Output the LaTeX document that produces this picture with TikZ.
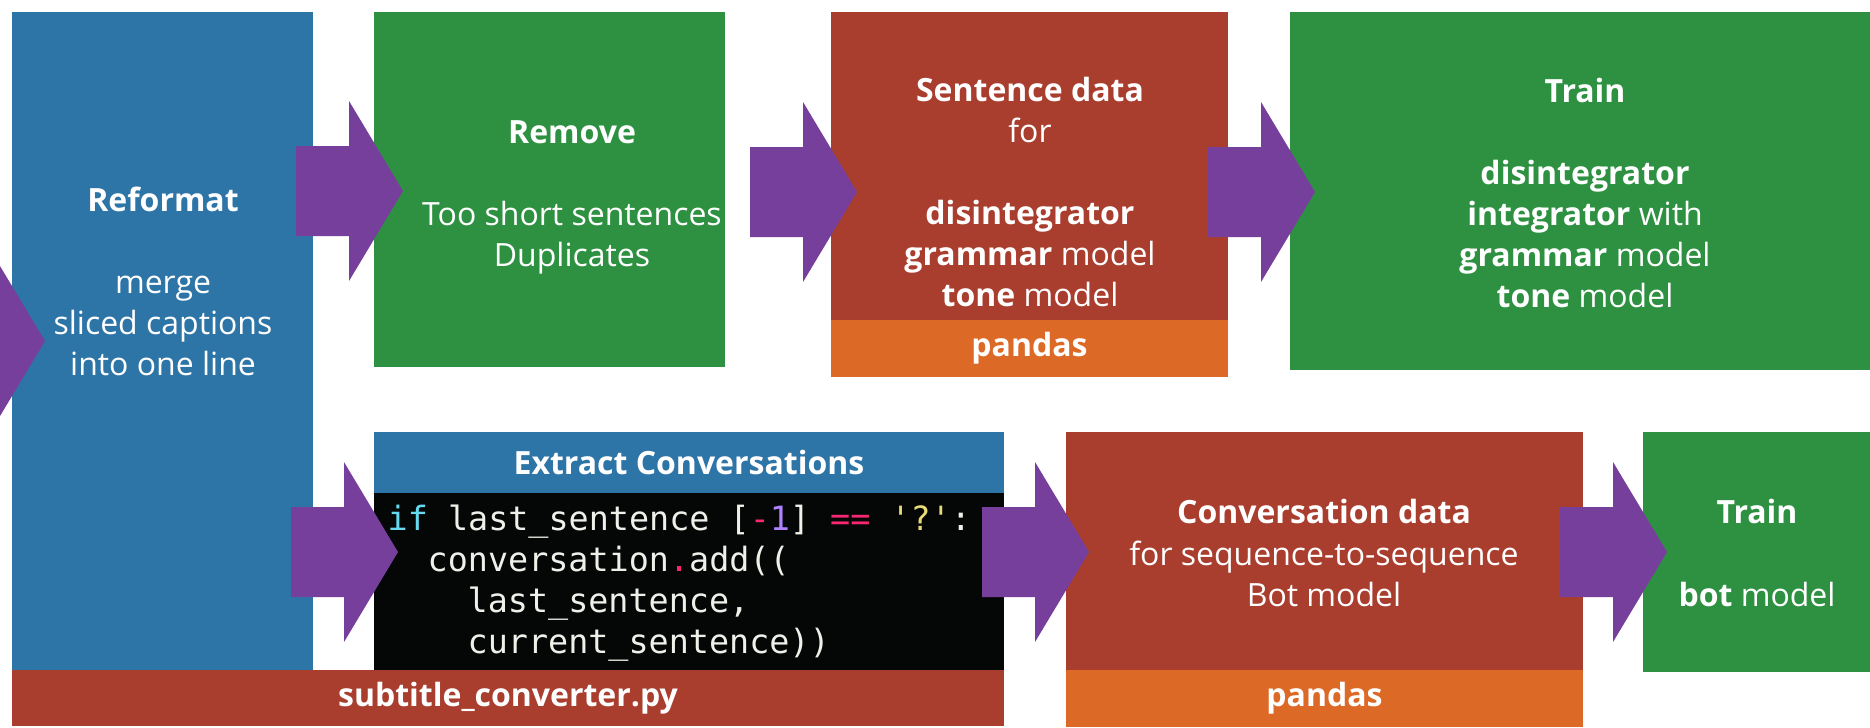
\documentclass[tikz,border=0pt]{standalone}
\usepackage{fontspec}
\setmainfont{Open Sans}
\newfontfamily\codefont{DejaVu Sans Mono}[Ligatures=TeXOff]
\usetikzlibrary{calc}
\definecolor{cblue}{HTML}{2E75A7}
\definecolor{cgreen}{HTML}{2E9141}
\definecolor{cred}{HTML}{A93E2F}
\definecolor{corange}{HTML}{DD6927}
\definecolor{cpurple}{HTML}{763F9B}
\definecolor{ccode}{HTML}{050707}
\definecolor{mkfg}{HTML}{F0F0EA}
\definecolor{mkblue}{HTML}{66D9EF}
\definecolor{mkpink}{HTML}{F92672}
\definecolor{mkpurple}{HTML}{AE81FF}
\definecolor{mkyellow}{HTML}{E6DB74}
\tikzset{
  panel/.style={inner sep=0pt, outer sep=0pt, anchor=north west, draw=none},
  lbl/.style={text=white, align=center, font=\fontsize{9.1}{11.67}\selectfont, inner sep=0pt},
  codeline/.style={text=mkfg, anchor=base west, inner sep=0pt, font=\codefont\fontsize{9.5}{11.67}\selectfont},
  flow/.style={fill=cpurple},
}
\newcommand\panel[6]{%
  \node[panel, fill=#2, minimum width={(#5-#3)*0.01cm}, minimum height={(#6-#4)*0.01cm}] (#1) at (#3,#4) {};}
\newcommand\fatarrow[1]{%
  \fill[flow] (#1) -- ++(-54,-90) -- ++(0,45) -- ++(-53,0) -- ++(0,90) -- ++(53,0) -- ++(0,45) -- cycle;}
\begin{document}
\begin{tikzpicture}[x=0.01cm, y=-0.01cm]
\useasboundingbox (0,0) rectangle (1870,727);
\fill[white] (0,0) rectangle (1870,727);
\clip (0,0) rectangle (1870,727);
% panels
\panel{reformat}{cblue}{12}{12}{313}{670}
\panel{subtitle}{cred}{12}{670}{1004}{726}
\panel{remove}{cgreen}{374}{12}{725}{367}
\panel{sentence}{cred}{831}{12}{1228}{320}
\panel{pandasA}{corange}{831}{320}{1228}{377}
\panel{train}{cgreen}{1290}{12}{1890}{370}
\panel{extract}{cblue}{374}{432}{1004}{493}
\panel{code}{ccode}{374}{493}{1004}{670}
\panel{conv}{cred}{1066}{432}{1583}{670}
\panel{pandasB}{corange}{1066}{670}{1583}{727}
\panel{trainbot}{cgreen}{1643}{432}{1890}{672}
% connectors (fat arrows)
\coordinate (a0) at ($(reformat.north west)+(33,329)$);
\coordinate (a1) at ($(remove.north west)+(29,179)$);
\coordinate (a2) at ($(sentence.north west)+(26,180)$);
\coordinate (a3) at ($(train.north west)+(25,180)$);
\coordinate (a4) at ($(extract.north west)+(24,120)$);
\coordinate (a5) at ($(conv.north west)+(23,120)$);
\coordinate (a6) at ($(trainbot.north west)+(24,120)$);
\fatarrow{a0}
\fatarrow{a1}
\fatarrow{a2}
\fatarrow{a3}
\fatarrow{a4}
\fatarrow{a5}
\fatarrow{a6}
% texts
\node[lbl] (reformatT) at (163,281) {\textbf{Reformat}\\~\\merge\\sliced captions\\into one line};
\node[lbl] (removeT) at (572,197) {\textbf{Remove}\\~\\Too short sentences\\Duplicates};
\node[lbl] (sentenceT) at (1030,192) {\textbf{Sentence data}\\for\\~\\\textbf{disintegrator}\\\textbf{grammar} model\\\textbf{tone} model};
\node[lbl] (trainT) at (1585,193) {\textbf{Train}\\~\\\textbf{disintegrator}\\\textbf{integrator} with\\\textbf{grammar} model\\\textbf{tone} model};
\node[lbl] (pandasAT) at (pandasA.center) {\textbf{pandas}};
\node[lbl] (subtitleT) at (subtitle.center) {\textbf{subtitle\_converter.py}};
\node[lbl] (extractT) at (extract.center) {\textbf{Extract Conversations}};
\node[lbl] (convT) at (1324,553) {\textbf{Conversation data}\\for sequence-to-sequence\\Bot model};
\node[lbl] (trainbotT) at (1757,553) {\textbf{Train}\\~\\\textbf{bot} model};
\node[lbl] (pandasBT) at (pandasB.center) {\textbf{pandas}};
% code
\node[codeline] (c1) at (387,530) {\textcolor{mkblue}{if} last\_sentence [\textcolor{mkpink}{-}\textcolor{mkpurple}{1}] \textcolor{mkpink}{==} \textcolor{mkyellow}{'?'}:};
\node[codeline] (c2) at (427,571) {conversation\textcolor{mkpink}{.}add((};
\node[codeline] (c3) at (467,612) {last\_sentence,};
\node[codeline] (c4) at (467,653) {current\_sentence))};
\end{tikzpicture}
\end{document}
